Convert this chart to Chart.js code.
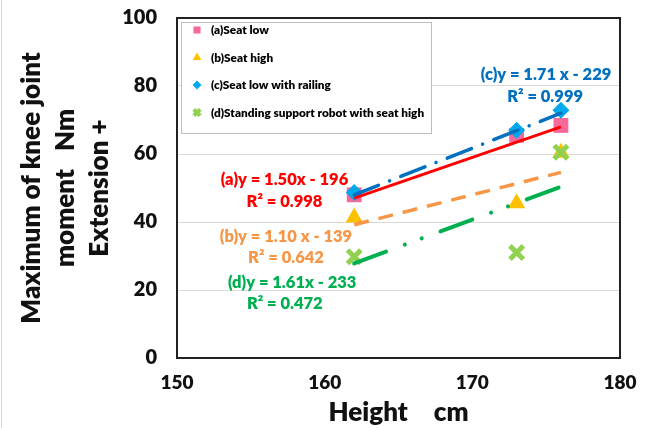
<!DOCTYPE html>
<html>
<head>
<meta charset="utf-8">
<script src="https://cdn.jsdelivr.net/npm/chart.js@4/dist/chart.umd.min.js"></script>
<style>
html,body{margin:0;padding:0;background:#fff;}
#wrap{position:relative;width:649px;height:428px;}
</style>
</head>
<body>
<div id="wrap"><canvas id="c" width="649" height="428"></canvas></div>
<script>
// ---- data ----
const heights = [162, 173, 176];
const seatLow = [48, 65.5, 68.4];          // (a)
const seatHigh = [41.3, 45.5, 60.4];       // (b)
const seatLowRailing = [48.7, 67, 72.9];   // (c)
const robotSeatHigh = [29.8, 31, 60.5];    // (d)

// trendline end points (x from 162 to 176)
const trendX = [162, 176];
const trendA = [47.0, 68.0];
const trendB = [39.2, 54.6];
const trendC = [48.0, 72.0];
const trendD = [27.8, 50.4];

const seriesNames = ['(a)Seat low', '(b)Seat high', '(c)Seat low with railing', '(d)Standing support robot with seat high'];
const xTicks = [150, 160, 170, 180];
const yTicks = [0, 20, 40, 60, 80, 100];

const equations = [
  {text: '(a)y = 1.50x - 196', x: 157.28, y: 52.5, color: '#FF0000'},
  {text: 'R² = 0.998', x: 157.28, y: 46.0, color: '#FF0000'},
  {text: '(b)y = 1.10 x - 139', x: 157.38, y: 35.7, color: '#F79646'},
  {text: 'R² = 0.642', x: 157.38, y: 29.5, color: '#F79646'},
  {text: '(d)y = 1.61x - 233', x: 157.8, y: 22.1, color: '#00B050'},
  {text: 'R² = 0.472', x: 157.3, y: 15.9, color: '#00B050'},
  {text: '(c)y = 1.71 x - 229', x: 174.99, y: 83.2, color: '#0070C0'},
  {text: 'R² = 0.999', x: 174.93, y: 77.0, color: '#0070C0'}
];

const FONT = 'Lato, "Liberation Sans", sans-serif';
const W = 800;
const pts = (ys) => heights.map((h, i) => ({x: h, y: ys[i]}));
const tl = (ys) => trendX.map((h, i) => ({x: h, y: ys[i]}));

const markerStyles = [
  {pointStyle: 'rect', color: '#F7689B', radius: 10.5, borderWidth: 0},
  {pointStyle: 'triangle', color: '#FFC000', radius: 10, borderWidth: 0},
  {pointStyle: 'rectRot', color: '#00A8EC', radius: 8.5, borderWidth: 0},
  {pointStyle: 'crossRot', color: '#92D050', radius: 9.5, borderWidth: 5}
];
const seriesData = [seatLow, seatHigh, seatLowRailing, robotSeatHigh];

// higher order is drawn first: (a) bottom ... (d) top
const scatterSets = seriesData.map((d, i) => ({
  type: 'scatter',
  label: seriesNames[i],
  data: pts(d),
  pointStyle: markerStyles[i].pointStyle,
  pointRadius: markerStyles[i].radius,
  pointHoverRadius: markerStyles[i].radius,
  backgroundColor: markerStyles[i].color,
  borderColor: markerStyles[i].color,
  pointBorderWidth: markerStyles[i].borderWidth,
  order: 10 - i
}));
const trendSets = [
  {data: tl(trendB), borderColor: '#F79646', borderWidth: 3.5, borderDash: [15, 10], borderCapStyle: 'butt'},
  {data: tl(trendD), borderColor: '#00B050', borderWidth: 4, borderDash: [34, 20, 0.01, 18, 0.01, 20], borderCapStyle: 'round'},
  {data: tl(trendC), borderColor: '#0070C0', borderWidth: 3.5, borderDash: [26, 12, 0.01, 12], borderCapStyle: 'round'},
  {data: tl(trendA), borderColor: '#FF0000', borderWidth: 3, borderCapStyle: 'butt'}
].map(s => Object.assign({type: 'line', label: '', showLine: true, pointRadius: 0, pointHoverRadius: 0, fill: false, tension: 0, order: 1}, s));

const framePlugin = {
  id: 'frame',
  beforeDraw(chart) {
    const ctx = chart.ctx;
    ctx.save();
    ctx.fillStyle = '#fff';
    ctx.fillRect(0, 0, chart.width, chart.height);
    ctx.strokeStyle = '#D9D9D9';
    ctx.lineWidth = 1;
    ctx.beginPath(); ctx.moveTo(1.5, 0); ctx.lineTo(1.5, chart.height); ctx.stroke();
    ctx.restore();
  },
  beforeDatasetsDraw(chart) {
    const {ctx, chartArea: a} = chart;
    ctx.save();
    ctx.strokeStyle = '#222';
    ctx.lineWidth = 2;
    ctx.strokeRect(a.left, a.top, a.right - a.left, a.bottom - a.top);
    // legend box
    const lx = a.left + 4, ly = a.top + 4, lw = 250, lh = 111;
    ctx.fillStyle = '#fff';
    ctx.fillRect(lx, ly, lw, lh);
    ctx.strokeStyle = '#BFBFBF';
    ctx.lineWidth = 1;
    ctx.strokeRect(lx + 0.5, ly + 0.5, lw, lh);
    const legendMarkers = [
      {pointStyle: 'rect', radius: 5, borderWidth: 0},
      {pointStyle: 'triangle', radius: 5, borderWidth: 0},
      {pointStyle: 'rectRot', radius: 4.5, borderWidth: 0},
      {pointStyle: 'crossRot', radius: 4.5, borderWidth: 4}
    ];
    ctx.font = W + ' 11.8px ' + FONT;
    ctx.textBaseline = 'middle';
    ctx.textAlign = 'left';
    seriesNames.forEach((name, i) => {
      const yy = ly + 8 + i * 27.5;
      ctx.fillStyle = markerStyles[i].color;
      ctx.strokeStyle = markerStyles[i].color;
      ctx.lineWidth = legendMarkers[i].borderWidth;
      Chart.helpers.drawPoint(ctx, {pointStyle: legendMarkers[i].pointStyle, radius: legendMarkers[i].radius, rotation: 0, borderWidth: legendMarkers[i].borderWidth}, lx + 16, yy);
      ctx.fillStyle = '#000';
      ctx.fillText(name, lx + 30, yy + 0.5);
    });
    ctx.restore();
  },
  afterDatasetsDraw(chart) {
    const {ctx, scales} = chart;
    ctx.save();
    ctx.font = W + ' 16.5px ' + FONT;
    ctx.textAlign = 'center';
    ctx.textBaseline = 'middle';
    equations.forEach(e => {
      ctx.fillStyle = e.color;
      ctx.fillText(e.text, scales.x.getPixelForValue(e.x), scales.y.getPixelForValue(e.y));
    });
    ctx.restore();
  }
};

new Chart(document.getElementById('c'), {
  data: {datasets: [...trendSets, ...scatterSets]},
  options: {
    responsive: false,
    animation: false,
    layout: {padding: {left: 0, right: 29, top: 18, bottom: 0}},
    plugins: {legend: {display: false}, tooltip: {enabled: false}},
    scales: {
      x: {
        type: 'linear', position: 'bottom', min: 150, max: 180,
        afterBuildTicks: (s) => { s.ticks = xTicks.map(v => ({value: v})); },
        afterFit: (s) => { s.height = 70; s.paddingLeft = 0; s.paddingRight = 0; },
        grid: {display: false, drawTicks: false},
        border: {display: false},
        ticks: {padding: 13, color: '#111', font: {family: FONT, size: 19, weight: W}, maxRotation: 0},
        title: {display: true, text: 'Height\u3000cm', color: '#111', padding: {top: 0, bottom: 0}, font: {family: FONT, size: 26, weight: W}}
      },
      y: {
        type: 'linear', position: 'left', min: 0, max: 100,
        afterBuildTicks: (s) => { s.ticks = yTicks.map(v => ({value: v})); },
        afterFit: (s) => { s.width = 177; s.paddingTop = 0; s.paddingBottom = 0; },
        grid: {color: '#D9D9D9', lineWidth: 1, drawTicks: false},
        border: {display: false},
        ticks: {padding: 20, color: '#111', font: {family: FONT, size: 20, weight: W}},
        title: {display: true, text: ['Maximum of knee joint', 'moment   Nm', 'Extension +'], color: '#111', padding: {top: 15, bottom: 0}, font: {family: FONT, size: 26, weight: W, lineHeight: '34px'}}
      }
    }
  },
  plugins: [framePlugin]
});
</script>
</body>
</html>
